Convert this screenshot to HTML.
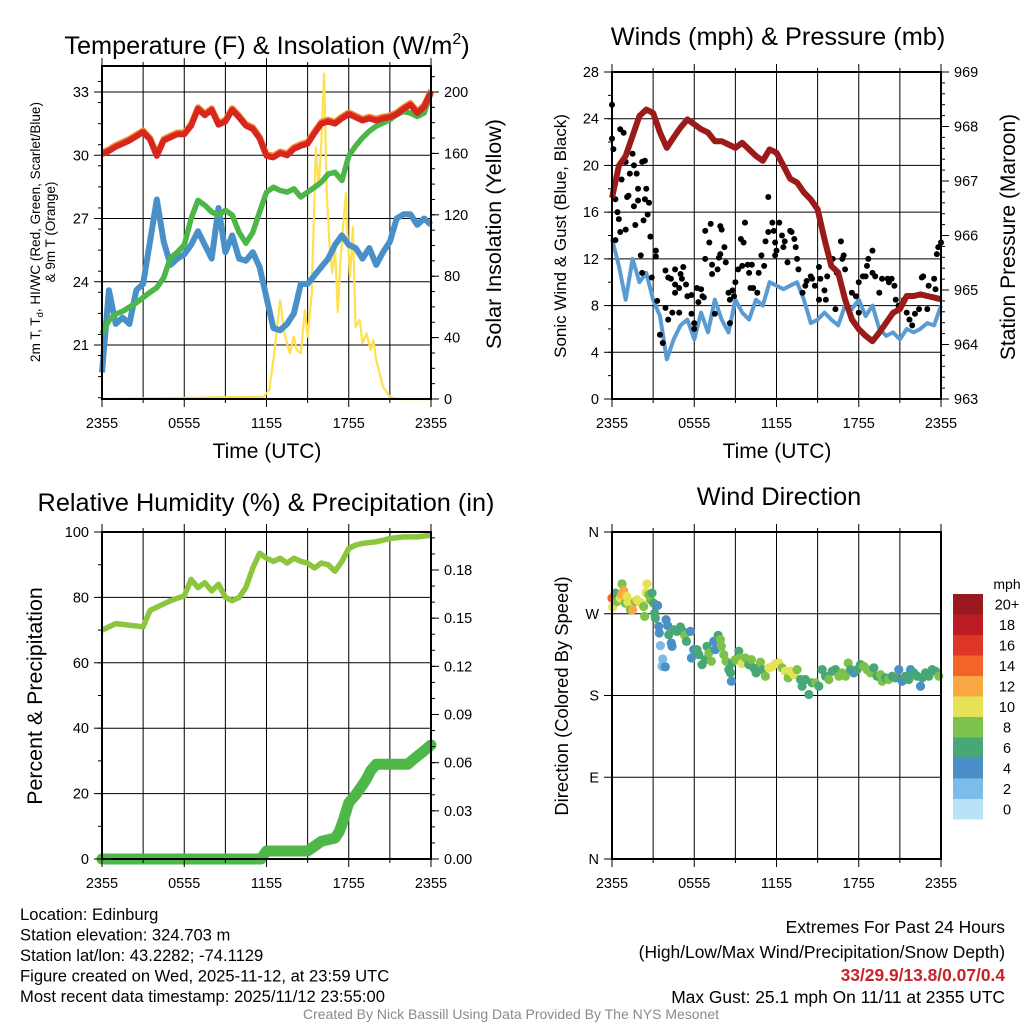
<!DOCTYPE html>
<html><head><meta charset="utf-8"><style>
html,body{margin:0;padding:0;background:#fff;}
svg{display:block;font-family:"Liberation Sans",sans-serif;}
</style></head><body>
<svg id="fig" width="1024" height="1024" viewBox="0 0 1024 1024" xmlns="http://www.w3.org/2000/svg"></svg>
<script>
// ---------- DATA ----------
const xTickLabels = ["2355","0555","1155","1755","2355"];
const halfHours = Array.from({length:49},(_,i)=>i*0.5);
// Panel 1 (deg F)
const temp2m = [30.05,30.2,30.4,30.55,30.7,30.9,31.1,30.75,29.97,30.7,30.85,31.0,31.0,31.4,32.2,31.9,32.15,31.45,31.6,32.15,31.8,31.4,31.25,30.8,29.97,29.9,30.1,30.0,30.3,30.45,30.55,31.05,31.5,31.6,31.5,31.75,31.95,31.8,31.65,31.75,31.65,31.75,31.8,31.95,32.2,32.4,32.0,32.3,33.0];
const dewpt = [21.53,22.16,22.47,22.6,22.8,23.0,23.25,23.5,23.72,24.19,25.13,25.4,25.75,27.0,27.86,27.63,27.31,27.16,27.39,27.16,26.34,25.83,26.34,27.31,28.25,28.48,28.33,28.25,28.41,28.02,28.25,28.48,28.72,29.11,29.19,28.8,29.97,30.44,30.83,31.14,31.38,31.53,31.69,31.92,32.08,32.0,31.84,32.0,32.94];
const windChill = [19.7,23.6,22.0,22.3,22.0,23.6,23.9,25.9,27.9,25.9,24.8,25.1,25.3,25.75,26.4,25.75,25.1,27.5,25.4,26.2,25.1,25.0,25.4,24.7,23.25,21.8,21.7,22.0,22.5,23.9,23.9,24.3,24.7,25.1,25.75,26.2,25.75,25.6,25.1,25.6,24.8,25.4,25.9,27.0,27.2,27.2,26.7,27.0,26.7];
const solarHours = [0,11.8,12.2,12.5,13,13.3,13.7,14,14.2,14.5,14.8,15,15.3,15.6,15.8,16,16.2,16.4,16.6,16.8,17,17.2,17.4,17.6,17.8,17.9,18.1,18.3,18.5,18.8,19,19.3,19.6,19.8,20,20.5,21,21.5,24];
const solarVals = [0,1.5,5.9,25.4,64.5,42.8,29.8,40.6,31.9,29.8,58,40.6,68.9,164,138,166.6,212,134,99,82,99,56.5,90.6,114.5,134,108,79.7,112,47,51.5,36.3,42.8,31.9,38.4,25.4,8,1.5,0,0];
// Panel 2
const windSpeed = [13.7,11.4,8.5,12.0,10.0,10.8,8.5,7.1,3.4,5.1,6.3,6.8,5.1,7.4,5.7,8.5,6.8,5.7,8.5,7.4,6.8,8.5,8.0,10.0,9.7,9.4,9.7,10.0,8.5,6.5,6.8,7.4,6.8,6.3,8.0,7.7,8.5,7.1,8.0,6.0,5.4,5.7,5.1,6.0,5.7,6.0,6.5,6.3,8.0];
const pressure = [966.69,967.28,967.46,967.83,968.19,968.31,968.25,967.89,967.61,967.80,967.98,968.13,968.04,967.95,967.89,967.73,967.73,967.67,967.61,967.70,967.58,967.46,967.37,967.58,967.52,967.28,967.04,966.97,966.79,966.66,966.48,965.93,965.44,965.32,964.83,964.46,964.28,964.16,964.06,964.22,964.40,964.58,964.65,964.89,964.89,964.92,964.89,964.86,964.83];
const gustHours = [0,0,0.1,0.6,0.85,1.5,1.0,1.6,2.2,2.4,1.3,1.8,0.7,0.25,0.4,0.5,1.2,1.1,1.9,2.5,1.9,2.4,2.7,1.6,2.3,2.6,1.7,1.0,0.6,0.25,2.8,2.1,3.2,3.2,2.2,2.9,3.3,3.9,4.1,4.3,4.6,4.6,5.0,5.2,5.1,5.4,4.6,4.9,5.5,5.8,3.5,3.7,3.9,4.1,4.4,4.9,5.8,6.0,6.0,6.2,6.5,6.6,6.3,6.7,6.8,7.1,7.2,6.8,7.3,7.3,7.7,7.5,7.9,8.0,8.2,7.9,7.8,8.3,8.5,8.8,8.6,8.9,8.6,9.0,9.2,9.5,9.4,9.7,9.6,9.9,10.0,10.2,10.1,10.3,10.6,10.7,10.9,11.1,11.2,11.4,11.4,11.7,11.8,11.9,12.2,12.0,11.9,12.4,12.5,12.6,12.8,13.0,13.1,13.3,13.4,13.5,13.6,13.9,14.1,14.2,14.5,14.6,14.8,15.1,15.2,15.5,15.6,15.7,16.1,16.4,16.7,16.8,16.9,17.0,17.5,17.8,18.0,18.3,18.5,18.6,18.7,19.0,19.0,19.2,19.5,19.7,20.1,20.2,20.4,20.6,20.7,20.9,21.3,21.5,21.7,21.9,22.1,22.4,22.6,22.7,23.0,23.1,23.5,23.6,23.7,23.8,24.0,18.0,16.3,15.1];
const gustVals = [25.2,22.3,21.4,23.1,22.8,21.0,20.3,20.0,20.3,20.4,19.3,19.3,18.8,17.1,16.0,15.4,17.4,17.3,18.0,18.0,17.0,17.1,16.8,16.5,15.3,15.8,14.9,14.5,14.3,13.6,13.9,12.3,12.7,12.2,10.8,10.4,8.4,11.0,10.4,10.3,11.1,9.8,10.7,11.3,10.3,9.8,9.1,9.5,8.8,8.9,5.5,4.8,7.8,6.8,7.4,7.4,7.3,6.5,6.0,9.5,9.4,8.8,8.3,8.7,14.4,13.4,15.0,12.0,11.5,10.7,11.1,7.3,14.8,14.5,13.0,12.4,12.1,11.7,9.1,9.3,8.5,8.8,6.5,10.0,11.1,11.4,13.7,15.1,13.4,11.5,10.8,11.5,9.5,9.5,9.1,10.8,12.3,11.4,13.5,17.3,14.3,15.1,14.4,13.4,15.1,12.7,12.3,14.0,13.0,13.5,11.7,14.4,14.3,13.7,13.0,12.0,11.1,9.1,9.7,10.1,10.5,10.3,9.7,11.3,10.3,9.3,8.5,10.5,12.0,10.8,13.5,12.0,12.3,11.1,9.1,8.8,10.0,10.5,10.5,11.4,12.0,12.7,10.8,10.5,9.1,10.3,10.3,10.0,10.3,9.7,8.5,8.0,8.5,7.4,6.8,6.3,7.3,7.7,10.4,10.5,7.7,9.7,10.3,9.4,12.4,13.0,13.4,7.4,7.7,8.5];
// Panel 3
const rhHours = [0,1,2,3,3.5,4,5,6,6.5,7,7.5,8,8.5,9,9.5,10,10.5,11,11.5,12,12.5,13,13.5,14,14.5,15,15.5,16,16.5,17,17.5,18,18.5,19,20,21,22,23,24];
const rhVals = [70,72,71.5,71,76,77,79,80.5,85.5,83,84.5,82,84,80,79,80,83,89,93.5,92,91,92,90.5,92,91,90.5,89,90.5,90,88,91,95,96,96.5,97,98,98.5,98.5,99];
const prHours = [0,11.6,12,15,15.5,16,17,17.3,17.6,18,18.5,19,19.3,19.6,20,22.3,22.7,23.3,24];
const prVals = [0,0,0.005,0.005,0.008,0.011,0.013,0.017,0.024,0.035,0.04,0.046,0.05,0.055,0.059,0.059,0.062,0.066,0.071];
// Panel 4
const dirHours = [0,0.05,0.24,0.36,0.61,0.73,0.85,0.68,0.97,1.09,1.17,1.34,1.51,1.70,1.82,1.95,2.14,2.31,2.38,2.55,2.48,2.68,2.80,2.92,3.04,3.11,3.16,3.33,3.41,3.45,3.53,3.70,3.65,3.89,3.94,4.06,4.14,4.33,4.38,4.50,4.74,4.99,5.16,5.30,5.43,5.72,5.79,5.96,6.20,6.33,6.57,6.81,6.93,7.06,7.25,7.42,7.54,7.74,7.91,7.98,8.15,8.32,8.52,8.64,8.71,8.76,9.00,9.25,9.37,9.49,9.73,9.98,10.17,10.34,10.51,10.83,10.95,11.19,11.44,11.68,11.92,12.17,12.41,12.65,12.85,13.02,13.26,13.50,13.75,13.87,14.11,14.36,14.60,14.84,15.09,15.33,15.57,15.82,16.06,16.30,16.55,16.79,17.03,17.23,17.40,17.64,17.88,18.13,18.37,18.61,18.86,19.10,19.34,19.59,19.71,19.95,20.19,20.44,20.68,20.92,21.17,21.41,21.65,21.78,22.02,22.26,22.51,22.63,22.87,23.11,23.36,23.60,23.84];
const dirDeg = [287.2,277.3,292.7,283.5,287.2,302.9,295.6,290.9,281.7,289.0,282.8,274.4,274.4,283.5,285.4,283.5,281.7,278.0,267.1,302.9,293.4,290.9,285.4,292.7,281.7,270.7,265.2,279.1,256.1,248.8,234.9,220.2,212.2,211.5,263.4,256.8,246.9,237.8,234.1,252.4,250.6,255.4,250.6,246.2,239.6,250.6,221.3,230.5,230.5,225.0,214.0,219.5,234.1,226.8,217.7,239.6,230.5,246.2,241.5,234.1,225.0,217.7,208.5,204.9,195.7,215.8,219.5,228.7,221.3,215.1,221.3,214.0,219.5,210.4,204.9,216.6,208.5,201.2,210.4,211.5,215.1,215.8,210.4,206.7,199.4,206.7,203.0,208.5,197.6,190.2,197.6,181.1,193.9,193.9,190.2,208.5,201.2,197.6,206.7,208.5,201.2,204.9,201.2,215.8,208.5,204.9,208.5,214.0,212.2,208.5,204.9,210.4,201.2,203.0,195.7,199.4,197.6,201.2,199.4,208.5,195.7,201.2,197.6,208.5,204.9,201.2,190.2,199.4,204.9,201.2,208.5,206.7,201.2];
const dirSpeed = [14.5,10,7,8,11,8,12.5,12.5,8.5,10,10,8,12.5,8,10,10,10,8,8,10,10,8.5,8.5,7,6.5,6.5,6.5,4.5,4.5,4.5,3,2.5,2.5,4.5,4.5,4.5,6.5,4.5,4.5,6.5,6.5,6.5,6.5,8.5,6.5,4.5,4.5,4.5,6.5,6.5,6.5,6.5,6.5,8.5,8.5,4.5,4.5,6.5,8.5,8.5,8.5,8.5,6.5,6.5,4.5,6.5,8.5,6.5,8.5,10,8.5,6.5,8.5,6.5,6.5,8.5,6.5,8.5,10,10,10,10,8.5,10,8.5,10,10,8.5,6.5,6.5,6.5,6.5,6.5,8.5,6.5,6.5,6.5,8.5,6.5,6.5,8.5,8.5,8.5,8.5,6.5,4.5,6.5,6.5,8.5,8.5,8.5,6.5,6.5,8.5,8.5,6.5,8.5,6.5,6.5,4.5,4.5,6.5,6.5,4.5,6.5,6.5,4.5,6.5,6.5,6.5,6.5,6.5,8.5];
const cbLabels = ["20+","18","16","14","12","10","8","6","4","2","0"];
const cbColors = ["#981a1e","#bd1c25","#de3528","#f26428","#f9a843","#e6e256","#7dc24b","#48a875","#4a8fc7","#7bbde8","#b8e2f6"];

// ---------- HELPERS ----------
const NS="http://www.w3.org/2000/svg";
const svg=document.getElementById('fig');
function mk(tag,attrs,parent,text){const e=document.createElementNS(NS,tag);for(const k in attrs)e.setAttribute(k,attrs[k]);if(text!==undefined)e.textContent=text;(parent||svg).appendChild(e);return e;}
function lin(d0,d1,r0,r1){return v=>r0+(v-d0)/(d1-d0)*(r1-r0);}
function pathFrom(xs,ys,fx,fy){return xs.map((x,i)=>(i?'L':'M')+fx(x).toFixed(1)+','+fy(ys[i]).toFixed(1)).join('');}
function speedColor(s){let i=Math.min(10,Math.floor(s/2));return cbColors[10-i];}
const TICK=14.5;

function panel(id,L,T,R,B){
  const g=mk('g',{});
  
  
  return {g,L,T,R,B,fx:lin(0,24,L,R)};
}
function frame(p,hGrid){
  const g=p.g;
  for(let i=1;i<8;i++){const x=p.L+i*(p.R-p.L)/8;const l=mk('line',{x1:x,y1:p.T,x2:x,y2:p.B,stroke:'#000','stroke-width':1},g);}
  hGrid.forEach(y=>{const l=mk('line',{x1:p.L,y1:y,x2:p.R,y2:y,stroke:'#000','stroke-width':1},g);});
}
function border(p){const r=mk('rect',{x:p.L,y:p.T,width:p.R-p.L,height:p.B-p.T,fill:'none',stroke:'#000','stroke-width':2},p.g);
  for(let i=0;i<=8;i++){const x=p.L+i*(p.R-p.L)/8;const len=i%2==0?8:4;mk('line',{x1:x,y1:p.B,x2:x,y2:p.B+len,stroke:'#000','stroke-width':1},p.g);mk('line',{x1:x,y1:p.T,x2:x,y2:p.T-len,stroke:'#000','stroke-width':1},p.g);}
  xTickLabels.forEach((s,i)=>{const t=mk('text',{x:p.L+i*(p.R-p.L)/4,y:p.B+29,'text-anchor':'middle','font-size':TICK},p.g,s);});
}
function yTicks(p,vals,fy,labels,side,minorStep,lo,hi){
  vals.forEach((v,i)=>{const y=fy(v);
    if(side==='L'){mk('line',{x1:p.L-8,y1:y,x2:p.L,y2:y,stroke:'#000'},p.g);const t=mk('text',{x:p.L-13,y:y+5,'text-anchor':'end','font-size':TICK},p.g,labels[i]);}
    else{mk('line',{x1:p.R,y1:y,x2:p.R+8,y2:y,stroke:'#000'},p.g);const t=mk('text',{x:p.R+13,y:y+5,'text-anchor':'start','font-size':TICK},p.g,labels[i]);}
  });
  if(minorStep){for(let v=lo;v<=hi+1e-9;v+=minorStep){const y=fy(v);if(y<p.T-0.5||y>p.B+0.5)continue;
    if(side==='L')mk('line',{x1:p.L-4,y1:y,x2:p.L,y2:y,stroke:'#000'},p.g);else mk('line',{x1:p.R,y1:y,x2:p.R+4,y2:y,stroke:'#000'},p.g);}}
}
function title(x,y,txt,name,size){const t=mk('text',{x:x,y:y,'text-anchor':'middle','font-size':size||25.3},svg,txt);return t;}
function vlabel(x,y,txt,name,size){const t=mk('text',{x:x,y:y,'text-anchor':'middle','font-size':size||21,transform:`rotate(-90 ${x} ${y})`},svg,txt);return t;}

// ---------- PANEL 1 ----------
{
const p=panel('temperature-panel',102,66,431,399);
const fy=lin(21,33,345,92), fs=lin(0,200,399,92);
frame(p,[21,24,27,30,33].map(fy));
const sol=mk('path',{d:pathFrom(solarHours,solarVals,p.fx,fs),fill:'none',stroke:'#ffe04d','stroke-width':2.2,'stroke-linejoin':'round'},p.g);

const wc=mk('path',{d:pathFrom(halfHours,windChill,p.fx,fy),fill:'none',stroke:'#4a90c8','stroke-width':6,'stroke-linejoin':'round'},p.g);

const dp=mk('path',{d:pathFrom(halfHours,dewpt,p.fx,fy),fill:'none',stroke:'#4cb748','stroke-width':5.5,'stroke-linejoin':'round'},p.g);

const t9=mk('path',{d:pathFrom(halfHours,temp2m.map(v=>v+0.08),p.fx,fy),fill:'none',stroke:'#f08a2c','stroke-width':6,'stroke-linejoin':'round'},p.g);

const tl=mk('path',{d:pathFrom(halfHours,temp2m,p.fx,fy),fill:'none',stroke:'#d7261e','stroke-width':6,'stroke-linejoin':'round'},p.g);

border(p);
yTicks(p,[21,24,27,30,33],fy,["21","24","27","30","33"],'L',1,18.5,34);
yTicks(p,[0,40,80,120,160,200],fs,["0","40","80","120","160","200"],'R',10,0,210);
title(267,54,'','temperature-title');
const tt=svg.lastChild; tt.innerHTML='Temperature (F) &amp; Insolation (W/m<tspan dy="-10" font-size="16">2</tspan><tspan dy="10">)</tspan>';
title(267,458,'Time (UTC)','x-axis-title-temp',21);
const l1=mk('text',{x:40,y:232,'text-anchor':'middle','font-size':13.5,transform:'rotate(-90 40 232)'},svg);
l1.innerHTML='2m T, T<tspan dy="3" font-size="9.5">d</tspan><tspan dy="-3">, HI/WC (Red, Green, Scarlet/Blue)</tspan>';

vlabel(55,232,'& 9m T (Orange)','temperature-y-axis-title-2',13.5);
vlabel(501,234,'Solar Insolation (Yellow)','solar-y-axis-title',21.5);
}
// ---------- PANEL 2 ----------
{
const p=panel('winds-panel',612,72,941,399);
const fy=lin(0,28,399,72), fp=lin(963,969,399,72);
frame(p,[4,8,12,16,20,24].map(fy));
const ws=mk('path',{d:pathFrom(halfHours,windSpeed,p.fx,fy),fill:'none',stroke:'#5a9bd3','stroke-width':4,'stroke-linejoin':'round'},p.g);

gustHours.forEach((h,i)=>{const c=mk('circle',{cx:p.fx(h),cy:fy(gustVals[i]),r:3,fill:'#000'},p.g);

});
const pr=mk('path',{d:pathFrom(halfHours,pressure,p.fx,fp),fill:'none',stroke:'#9b1b1b','stroke-width':6,'stroke-linejoin':'round'},p.g);

border(p);
yTicks(p,[0,4,8,12,16,20,24,28],fy,["0","4","8","12","16","20","24","28"],'L',2,0,28);
yTicks(p,[963,964,965,966,967,968,969],fp,["963","964","965","966","967","968","969"],'R',0.2,963,969);
title(778,45,'Winds (mph) & Pressure (mb)','winds-title');
title(777,458,'Time (UTC)','x-axis-title-winds',21);
vlabel(566,236,'Sonic Wind & Gust (Blue, Black)','wind-y-axis-title',17);
vlabel(1015,237,'Station Pressure (Maroon)','pressure-y-axis-title',21);
}
// ---------- PANEL 3 ----------
{
const p=panel('humidity-panel',102,532,431,859);
const fy=lin(0,100,859,532), fr=lin(0,0.18,859,570);
frame(p,[20,40,60,80].map(fy));
const rh=mk('path',{d:pathFrom(rhHours,rhVals,p.fx,fy),fill:'none',stroke:'#8cc63f','stroke-width':5.5,'stroke-linejoin':'round'},p.g);

const pc=mk('path',{d:pathFrom(prHours,prVals,p.fx,fr),fill:'none',stroke:'#4db848','stroke-width':11,'stroke-linejoin':'round','stroke-linecap':'round'},p.g);

border(p);
yTicks(p,[0,20,40,60,80,100],fy,["0","20","40","60","80","100"],'L',10,0,100);
yTicks(p,[0,0.03,0.06,0.09,0.12,0.15,0.18],fr,["0.00","0.03","0.06","0.09","0.12","0.15","0.18"],'R',0.01,0,0.2);
title(266,511,'Relative Humidity (%) & Precipitation (in)','humidity-title');
vlabel(42,696,'Percent & Precipitation','humidity-y-axis-title',21.4);
}
// ---------- PANEL 4 ----------
{
const p=panel('wind-direction-panel',612,532,941,859);
const fy=lin(0,360,859,532);
frame(p,[90,180,270].map(fy));
dirHours.forEach((h,i)=>{const c=mk('circle',{cx:p.fx(h),cy:fy(dirDeg[i]),r:4.6,fill:speedColor(dirSpeed[i])},p.g);

});
border(p);
yTicks(p,[0,90,180,270,360],fy,["N","E","S","W","N"],'L',0,0,0);
title(779,505,'Wind Direction','wind-direction-title');
vlabel(568,696,'Direction (Colored By Speed)','direction-y-axis-title',18.4);
const cb=mk('g',{});
const t=mk('text',{x:1007,y:589,'text-anchor':'middle','font-size':14},cb,'mph');
cbColors.forEach((c,i)=>{const y=594+i*20.5;mk('rect',{x:953,y:y,width:30,height:20.5,fill:c},cb);
const l=mk('text',{x:1007,y:y+15.5,'text-anchor':'middle','font-size':14.5},cb,cbLabels[i]);});
}
// ---------- FOOTER TEXT ----------
const info=["Location: Edinburg","Station elevation: 324.703 m","Station lat/lon: 43.2282; -74.1129","Figure created on Wed, 2025-11-12, at 23:59 UTC","Most recent data timestamp: 2025/11/12 23:55:00"];
info.forEach((s,i)=>{const t=mk('text',{x:20,y:920+i*20.5,'font-size':16.6},svg,s);});
const ex=[["Extremes For Past 24 Hours",933,'#000','normal'],["(High/Low/Max Wind/Precipitation/Snow Depth)",958,'#000','normal'],["33/29.9/13.8/0.07/0.4",981,'#c8232a','bold'],["Max Gust: 25.1 mph On 11/11 at 2355 UTC",1003,'#000','normal']];
ex.forEach(e=>{const t=mk('text',{x:1005,y:e[1],'text-anchor':'end','font-size':17.4,fill:e[2],'font-weight':e[3]},svg,e[0]);});
const cr=mk('text',{x:511,y:1019,'text-anchor':'middle','font-size':14,fill:'#8a8a8a'},svg,'Created By Nick Bassill Using Data Provided By The NYS Mesonet');

</script>
</body></html>
